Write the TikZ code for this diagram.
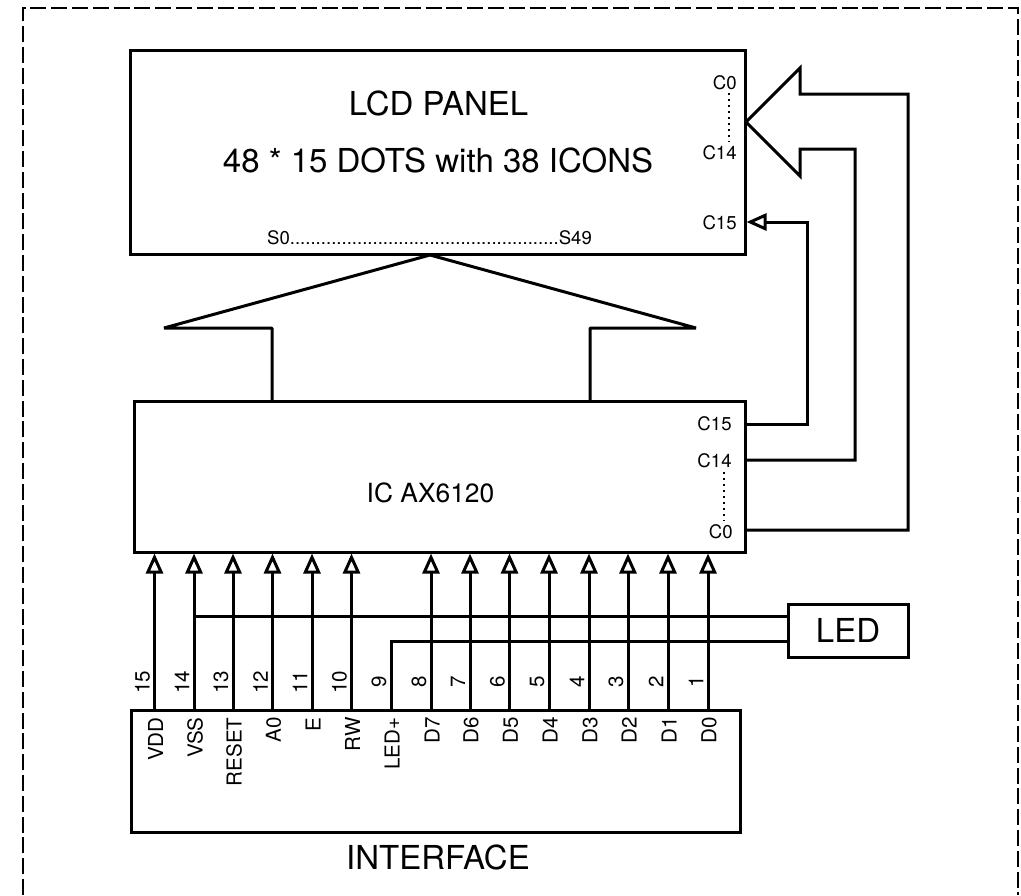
\documentclass[tikz,border=0pt]{standalone}
\usepackage{fontspec}
\setmainfont{TeX Gyre Heros}
\usetikzlibrary{arrows.meta}
\usetikzlibrary{calc}
\tikzset{
  caja/.style={
    rectangle, draw=black, line width=1.5pt, fill=white, inner sep=0pt
  },
  linea/.style={line width=1.5pt, draw=black},
  pinflecha/.style={{Triangle[open,length=10pt,width=8.5pt,line width=1.5pt]}-, line width=1.5pt, draw=black},
  puntos/.style={line width=1pt, draw=black, dash pattern=on 1pt off 2pt},
  marco/.style={line width=1.1pt, draw=black, dash pattern=on 8pt off 2.4pt},
  tchica/.style={font=\fontsize{9.3}{11}\selectfont, inner sep=0pt},
  tpin/.style={font=\fontsize{10.3}{12}\selectfont, inner sep=0pt, rotate=90},
  tmedia/.style={font=\fontsize{13.2}{16}\selectfont, inner sep=0pt},
  tgrande/.style={font=\fontsize{16.5}{19}\selectfont, inner sep=0pt}
}
\begin{document}
\begin{tikzpicture}[x=0.5pt,y=-0.5pt]
  \useasboundingbox (0,0) rectangle (1021,895);

  % marco
  \draw[marco] (23,895) |- (1018,8) -- (1018,895);

  % bloques
  \node[caja, minimum width=307.5pt, minimum height=102pt] (lcd) at (437.5,152) {};
  \node[caja, minimum width=305.5pt, minimum height=75.5pt] (ic) at (439.5,476.5) {};
  \node[caja, minimum width=304.5pt, minimum height=61pt] (iface) at (435.5,771) {};
  \node[caja, minimum width=60pt, minimum height=26.5pt, tgrande] (led) at (848,630.5) {LED};

  % textos
  \node[tgrande] (lcdtit) at (438.5,103) {LCD PANEL};
  \node[tgrande] (lcdsub) at (438,160) {48 * 15 DOTS with 38 ICONS};
  \node[tmedia] (ictxt) at (430.5,493) {IC AX6120};
  \node[tgrande] (ifacetxt) at (438,857.5) {INTERFACE};
  \node[tchica, anchor=base] (seg) at (429.5,244) {S0....................................................S49};
  \node[tchica, anchor=east] (lc0) at (737,83) {C0};
  \node[tchica, anchor=east] (lc14) at (737,153) {C14};
  \node[tchica, anchor=east] (lc15) at (737,223) {C15};
  \node[tchica, anchor=east] (ic15) at (732,423.5) {C15};
  \node[tchica, anchor=east] (ic14) at (732,460.5) {C14};
  \node[tchica, anchor=east] (ic0) at (733,531.5) {C0};
  \draw[puntos] (729,93) -- (729,142);
  \draw[puntos] (723.5,472) -- (723.5,521);

  % pines
  \foreach \px/\num/\nom in {154.5/15/VDD, 194/14/VSS, 233/13/RESET, 272.5/12/A0, 312/11/E,
      351.5/10/RW, 391/9/LED+, 431/8/D7, 470/7/D6, 509.5/6/D5, 549/5/D4, 589/4/D3,
      628/3/D2, 668/2/D1, 708/1/D0} {
    \coordinate (p\num) at (\px,710);
    \node[tpin, anchor=east] (nom\num) at ($(p\num)+(1,7)$) {\nom};
    \node[tpin] (num\num) at ($(p\num)+(-12,-28)$) {\num};
  }
  \foreach \num in {15,14,13,12,11,10,8,7,6,5,4,3,2,1} {
    \draw[pinflecha] (p\num |- ic.south) -- (p\num);
  }

  % LED
  \coordinate (ledvss) at (led.west |- 0,616);
  \coordinate (ledmas) at (led.west |- 0,641);
  \draw[linea] (ledvss) -- (p14 |- ledvss);
  \draw[linea] (ledmas) -- (p9 |- ledmas) -- (p9);

  % columnas
  \coordinate (c15a) at (lcd.east |- 0,222);
  \coordinate (c15b) at (ic.east |- 0,424);
  \coordinate (c14b) at (ic.east |- 0,460);
  \coordinate (c0b) at (ic.east |- 0,530);
  \draw[linea, {Triangle[open,length=10pt,width=8.5pt,line width=1.5pt]}-] (c15a) -| (807,424) -- (c15b);
  \draw[linea, line join=miter] (c14b) -| (855,149) -- (800,149) -- (800,176) -- (746,122)
    -- (800,68) -- (800,94) -- (908,94) |- (c0b);

  % flecha ancha
  \draw[linea, line join=bevel] (272,401) -- (272,328) -- (164,328) -- (430,255) -- (696,328) -- (590,328) -- (590,401);
\end{tikzpicture}
\end{document}
